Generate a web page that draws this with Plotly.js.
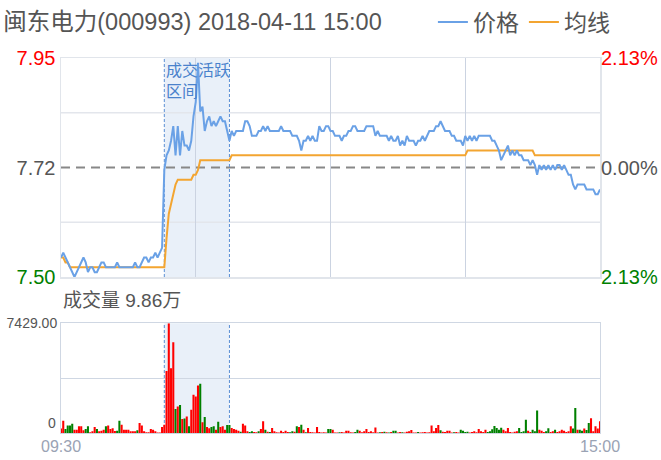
<!DOCTYPE html>
<html>
<head>
<meta charset="utf-8">
<script src="https://cdn.plot.ly/plotly-3.0.1.min.js"></script>
<style>
  html, body { margin: 0; padding: 0; background: #fff; }
  #chart { width: 661px; height: 460px; }
</style>
</head>
<body>
<div id="chart"></div>
<script>
// 闽东电力 intraday (分时) chart, 2018-04-11

const chartTitle = '闽东电力(000993) 2018-04-11 15:00';
const volumeLabel = '成交量 9.86万';
const activeLabel = '成交活跃<br>区间';
const activeStart = '10:16';
const activeEnd = '10:45';

// price axis: low / previous close / high, with change-percent labels on the right
const priceTicks = [7.50, 7.725, 7.95];
const priceTickText = ['7.50', '7.72', '7.95'];
const pctTickText = ['2.13%', '0.00%', '2.13%'];
const tickColors = ['#008000', '#555555', '#ff0000'];
const volumeMax = 7429;

// trading minutes: 09:30-11:30 and 13:01-15:00
function hhmm(total) {
  const h = Math.floor(total / 60), m = total % 60;
  return (h < 10 ? '0' : '') + h + ':' + (m < 10 ? '0' : '') + m;
}
const times = [];
for (let m = 0; m <= 120; m++) times.push(hhmm(9 * 60 + 30 + m));
for (let m = 1; m <= 120; m++) times.push(hhmm(13 * 60 + m));

// last price per minute
const price = [
  7.54,7.55,7.54,7.53,7.52,7.51,7.50,7.51,7.52,7.53,
  7.54,7.53,7.51,7.52,7.52,7.51,7.51,7.52,7.53,7.53,
  7.52,7.52,7.52,7.52,7.52,7.53,7.52,7.52,7.52,7.52,
  7.52,7.52,7.52,7.53,7.52,7.52,7.53,7.54,7.54,7.53,
  7.54,7.54,7.55,7.54,7.55,7.56,7.72,7.75,7.76,7.78,
  7.81,7.75,7.81,7.75,7.80,7.77,7.77,7.76,7.78,7.83,
  7.86,7.94,7.84,7.85,7.80,7.82,7.83,7.81,7.82,7.81,
  7.82,7.83,7.82,7.82,7.80,7.78,7.80,7.79,7.80,7.80,
  7.80,7.80,7.82,7.82,7.81,7.79,7.79,7.79,7.80,7.80,
  7.81,7.80,7.81,7.80,7.80,7.80,7.80,7.80,7.81,7.80,
  7.80,7.80,7.80,7.79,7.79,7.79,7.78,7.76,7.78,7.78,
  7.79,7.78,7.79,7.78,7.78,7.81,7.80,7.80,7.81,7.81,
  7.80,7.80,7.79,7.79,7.79,7.78,7.79,7.79,7.80,7.80,
  7.81,7.81,7.80,7.80,7.80,7.80,7.81,7.81,7.81,7.81,
  7.79,7.80,7.79,7.79,7.79,7.79,7.78,7.79,7.78,7.78,
  7.79,7.77,7.78,7.77,7.79,7.78,7.78,7.78,7.77,7.78,
  7.78,7.79,7.78,7.79,7.80,7.80,7.80,7.81,7.81,7.82,
  7.81,7.80,7.80,7.80,7.79,7.79,7.78,7.78,7.78,7.77,
  7.79,7.78,7.79,7.78,7.79,7.78,7.79,7.79,7.79,7.79,
  7.79,7.79,7.78,7.78,7.77,7.76,7.74,7.75,7.76,7.77,
  7.75,7.76,7.75,7.76,7.75,7.75,7.74,7.74,7.74,7.73,
  7.74,7.73,7.71,7.73,7.72,7.73,7.72,7.73,7.72,7.73,
  7.72,7.73,7.73,7.72,7.73,7.72,7.71,7.71,7.69,7.68,
  7.69,7.69,7.69,7.69,7.68,7.68,7.68,7.68,7.67,7.67,7.68
];

// average price per minute
const avgPrice = [
  7.54,7.54,7.53,7.53,7.52,7.52,7.52,7.52,7.52,7.52,
  7.52,7.52,7.52,7.52,7.52,7.52,7.52,7.52,7.52,7.52,
  7.52,7.52,7.52,7.52,7.52,7.52,7.52,7.52,7.52,7.52,
  7.52,7.52,7.52,7.52,7.52,7.52,7.52,7.52,7.52,7.52,
  7.52,7.52,7.52,7.52,7.52,7.52,7.52,7.58,7.63,7.65,
  7.67,7.69,7.70,7.70,7.70,7.70,7.70,7.70,7.70,7.71,
  7.71,7.72,7.74,7.74,7.74,7.74,7.74,7.74,7.74,7.74,
  7.74,7.74,7.74,7.74,7.74,7.74,7.75,7.75,7.75,7.75,
  7.75,7.75,7.75,7.75,7.75,7.75,7.75,7.75,7.75,7.75,
  7.75,7.75,7.75,7.75,7.75,7.75,7.75,7.75,7.75,7.75,
  7.75,7.75,7.75,7.75,7.75,7.75,7.75,7.75,7.75,7.75,
  7.75,7.75,7.75,7.75,7.75,7.75,7.75,7.75,7.75,7.75,
  7.75,7.75,7.75,7.75,7.75,7.75,7.75,7.75,7.75,7.75,
  7.75,7.75,7.75,7.75,7.75,7.75,7.75,7.75,7.75,7.75,
  7.75,7.75,7.75,7.75,7.75,7.75,7.75,7.75,7.75,7.75,
  7.75,7.75,7.75,7.75,7.75,7.75,7.75,7.75,7.75,7.75,
  7.75,7.75,7.75,7.75,7.75,7.75,7.75,7.75,7.75,7.75,
  7.75,7.75,7.75,7.75,7.75,7.75,7.75,7.75,7.75,7.75,
  7.75,7.76,7.76,7.76,7.76,7.76,7.76,7.76,7.76,7.76,
  7.76,7.76,7.76,7.76,7.76,7.76,7.76,7.76,7.76,7.76,
  7.76,7.76,7.76,7.76,7.76,7.76,7.76,7.76,7.76,7.76,
  7.76,7.75,7.75,7.75,7.75,7.75,7.75,7.75,7.75,7.75,
  7.75,7.75,7.75,7.75,7.75,7.75,7.75,7.75,7.75,7.75,
  7.75,7.75,7.75,7.75,7.75,7.75,7.75,7.75,7.75,7.75,7.75
];

// volume per minute (手)
const volume = [
  300,830,270,500,500,630,225,225,450,450,
  180,270,450,50,110,400,270,110,155,225,
  450,500,270,315,135,155,830,560,225,225,
  225,110,110,110,180,675,500,110,50,50,
  270,225,110,30,30,400,560,4200,7429,4390,
  6140,1620,1800,1890,945,990,1125,450,1575,2590,
  2475,3220,3330,720,1080,400,315,400,450,225,
  765,400,450,225,540,540,340,270,225,155,
  90,630,500,110,60,110,70,50,110,270,
  790,225,80,60,340,110,50,40,155,70,
  155,60,50,110,80,450,400,560,225,50,
  340,60,50,40,400,60,40,50,30,270,
  270,225,40,30,50,60,40,160,160,50,
  40,60,225,160,50,110,270,60,110,50,
  380,40,50,60,90,50,40,60,160,160,
  40,60,50,40,90,110,200,40,30,60,
  40,50,60,40,50,500,110,340,540,180,
  90,60,160,160,40,50,60,40,225,160,
  60,90,40,60,110,50,270,110,60,225,
  60,110,250,470,340,225,360,225,110,340,
  60,40,90,110,340,60,110,900,160,60,
  225,110,1530,225,160,60,110,315,60,110,
  225,60,110,225,160,60,110,450,300,1690,
  225,225,160,300,200,675,1000,110,450,300,790
];

// 1 = up tick (red), -1 = down tick (green)
const direction = [
  1,1,-1,-1,-1,-1,1,1,1,1,
  1,-1,-1,1,1,1,-1,1,1,1,
  -1,1,1,1,1,-1,-1,1,1,1,
  1,1,1,1,-1,1,1,1,1,1,
  1,1,1,1,1,1,1,1,1,1,
  1,-1,1,-1,1,-1,1,-1,1,1,
  1,1,-1,1,-1,1,1,-1,-1,1,
  -1,1,1,1,-1,-1,1,1,1,1,
  -1,1,1,1,-1,-1,1,1,-1,1,
  1,-1,1,-1,1,1,1,1,1,1,
  1,1,-1,-1,1,-1,1,-1,1,-1,
  1,1,1,1,1,1,1,1,1,-1,
  -1,1,1,1,-1,1,1,1,1,1,
  1,-1,-1,1,1,1,1,1,1,1,
  1,1,-1,1,-1,1,-1,1,-1,-1,
  1,1,-1,1,1,1,1,1,1,-1,
  1,1,1,1,1,1,1,1,1,-1,
  1,1,1,1,1,-1,1,1,-1,-1,
  -1,-1,1,1,1,1,1,1,1,1,
  -1,-1,-1,-1,-1,-1,-1,1,1,1,
  1,1,1,1,-1,-1,-1,-1,1,1,
  -1,-1,-1,1,1,1,-1,-1,1,1,
  -1,1,1,1,1,1,1,1,-1,-1,
  1,-1,-1,1,-1,-1,1,1,1,1,1
];

const FONT = 'Liberation Sans, Arial, Noto Sans CJK SC, sans-serif';
const UP = '#ff0000', DOWN = '#008000';

function colored(texts) {
  return texts.map((t, k) => '<span style="color:' + tickColors[k] + '">' + t + '</span>');
}

const traces = [
  {
    type: 'scatter', mode: 'lines', name: '价格',
    x: times, y: price, xaxis: 'x', yaxis: 'y2',
    line: { color: '#6aa1e6', width: 2 },
    hovertemplate: '%{x} %{y:.2f}<extra></extra>'
  },
  {
    type: 'scatter', mode: 'lines', name: '均线',
    x: times, y: avgPrice, xaxis: 'x', yaxis: 'y',
    line: { color: '#f3a531', width: 2 },
    hovertemplate: '%{x} %{y:.2f}<extra></extra>'
  },
  {
    type: 'bar', name: '成交量', showlegend: false,
    x: times, y: volume, xaxis: 'x2', yaxis: 'y3',
    marker: { color: direction.map(d => d > 0 ? UP : DOWN), line: { width: 0 } },
    hovertemplate: '%{x} %{y}<extra></extra>'
  }
];

const frameColor = '#e1e5eb';
const volFrameColor = '#cfd7e3';

const layout = {
  width: 661, height: 460,
  margin: { l: 61, r: 61, t: 58, b: 27, autoexpand: false },
  paper_bgcolor: '#ffffff', plot_bgcolor: '#ffffff',
  font: { family: FONT, color: '#555555' },
  title: {
    text: chartTitle,
    xref: 'container', x: 0.005, xanchor: 'left',
    yref: 'container', y: 0.952, yanchor: 'middle',
    font: { family: FONT, size: 23.5, color: '#555555' }
  },
  showlegend: true,
  legend: {
    orientation: 'h', x: 0.69, xanchor: 'left', y: 1.096, yanchor: 'middle',
    font: { family: FONT, size: 23, color: '#555555' },
    bgcolor: 'rgba(0,0,0,0)', itemwidth: 30, tracegroupgap: 0
  },
  bargap: 0.08,
  xaxis: {
    domain: [0, 1], anchor: 'y', type: 'category',
    range: [0, times.length - 1],
    tickvals: ['10:30', '11:30', '14:00'], showticklabels: false, ticks: '',
    showgrid: true, gridcolor: '#cbd3e1', gridwidth: 1,
    showline: true, mirror: true, linecolor: frameColor, linewidth: 1.5,
    zeroline: false, fixedrange: true
  },
  yaxis: {
    domain: [0.416, 1], anchor: 'x',
    range: [priceTicks[0], priceTicks[2]],
    tickvals: priceTicks, ticktext: colored(priceTickText),
    tickfont: { family: FONT, size: 20 }, ticks: '',
    showgrid: false, zeroline: false,
    showline: true, mirror: true, linecolor: frameColor, linewidth: 1.5,
    fixedrange: true
  },
  yaxis2: {
    overlaying: 'y', side: 'right', anchor: 'x',
    range: [priceTicks[0], priceTicks[2]],
    tickvals: priceTicks, ticktext: colored(pctTickText),
    tickfont: { family: FONT, size: 20 }, ticks: '',
    showgrid: false, zeroline: false, showline: false, fixedrange: true
  },
  xaxis2: {
    domain: [0, 1], anchor: 'y3', type: 'category',
    range: [0, times.length - 1],
    tickvals: ['09:30', '15:00'], ticktext: ['09:30', '15:00'],
    tickfont: { family: FONT, size: 16, color: '#9aa3b4' }, ticks: '',
    ticklabelstandoff: -1,
    showgrid: false, zeroline: false,
    showline: true, mirror: true, linecolor: volFrameColor, linewidth: 1,
    fixedrange: true
  },
  yaxis3: {
    domain: [0, 0.2925], anchor: 'x2',
    range: [0, volumeMax],
    tickvals: [volumeMax / 2, volumeMax], ticktext: ['', volumeMax.toFixed(2)],
    tickfont: { family: FONT, size: 14, color: '#555555' }, ticks: '',
    showgrid: true, gridcolor: volFrameColor, gridwidth: 1,
    zeroline: false, showline: true, mirror: true, linecolor: volFrameColor, linewidth: 1,
    fixedrange: true
  },
  shapes: [
    // active trading window, both panels
    { type: 'rect', layer: 'below', xref: 'x', yref: 'y domain',
      x0: activeStart, x1: activeEnd, y0: 0, y1: 1,
      fillcolor: '#e9f0f9', line: { width: 0 } },
    { type: 'rect', layer: 'below', xref: 'x2', yref: 'y3 domain',
      x0: activeStart, x1: activeEnd, y0: 0, y1: 1,
      fillcolor: '#e9f0f9', line: { width: 0 } },
    // horizontal price grid
    { type: 'line', layer: 'below', xref: 'x domain', yref: 'y',
      x0: 0, x1: 1, y0: 7.6125, y1: 7.6125, line: { color: '#e3e6ec', width: 1.5 } },
    { type: 'line', layer: 'below', xref: 'x domain', yref: 'y',
      x0: 0, x1: 1, y0: 7.8375, y1: 7.8375, line: { color: '#e3e6ec', width: 1.5 } },
    // previous close
    { type: 'line', layer: 'below', xref: 'x domain', yref: 'y',
      x0: 0, x1: 1, y0: priceTicks[1], y1: priceTicks[1],
      line: { color: '#888888', width: 2, dash: '9px,6px' } },
    // window edges
    { type: 'line', layer: 'below', xref: 'x', yref: 'y domain',
      x0: activeStart, x1: activeStart, y0: 0, y1: 1,
      line: { color: '#5a8fd4', width: 1, dash: '3px,2px' } },
    { type: 'line', layer: 'below', xref: 'x', yref: 'y domain',
      x0: activeEnd, x1: activeEnd, y0: 0, y1: 1,
      line: { color: '#5a8fd4', width: 1, dash: '3px,2px' } },
    { type: 'line', layer: 'below', xref: 'x2', yref: 'y3 domain',
      x0: activeStart, x1: activeStart, y0: 0, y1: 1,
      line: { color: '#5a8fd4', width: 1, dash: '3px,2px' } },
    { type: 'line', layer: 'below', xref: 'x2', yref: 'y3 domain',
      x0: activeEnd, x1: activeEnd, y0: 0, y1: 1,
      line: { color: '#5a8fd4', width: 1, dash: '3px,2px' } }
  ],
  annotations: [
    { text: activeLabel, showarrow: false, align: 'left',
      xref: 'x', x: activeStart, xanchor: 'left',
      yref: 'y', y: priceTicks[2], yanchor: 'top', yshift: -2,
      font: { family: FONT, size: 16, color: '#4a82cc' } },
    { text: volumeLabel, showarrow: false,
      xref: 'paper', x: 0, xanchor: 'left',
      yref: 'paper', y: 0.3528, yanchor: 'middle',
      font: { family: FONT, size: 19, color: '#555555' } },
    { text: '0', showarrow: false,
      xref: 'paper', x: 0, xanchor: 'right', xshift: -3,
      yref: 'y3', y: 0, yanchor: 'bottom',
      font: { family: FONT, size: 14, color: '#555555' } }
  ]
};

Plotly.newPlot('chart', traces, layout, { displayModeBar: false, staticPlot: true });
</script>
</body>
</html>
